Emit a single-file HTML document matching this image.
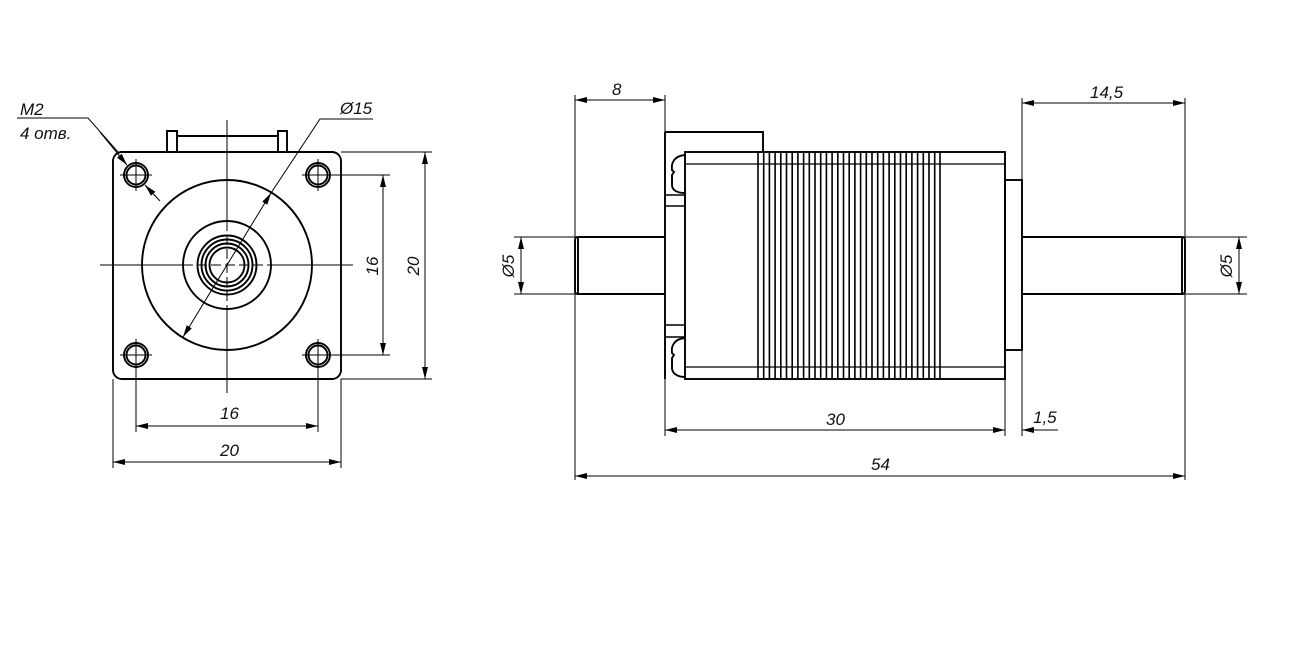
<!DOCTYPE html>
<html><head><meta charset="utf-8"><style>
html,body{margin:0;padding:0;background:#fff;}
svg{display:block;}
text{font-family:"Liberation Sans",sans-serif;font-style:italic;font-size:17px;fill:#111;}
</style></head><body>
<svg width="1292" height="648" viewBox="0 0 1292 648" xmlns="http://www.w3.org/2000/svg">
<defs>
<marker id="a" viewBox="0 0 12 6" refX="12" refY="3" markerWidth="12" markerHeight="6" orient="auto-start-reverse" markerUnits="userSpaceOnUse"><path d="M0,0 L12,3 L0,6 z" fill="#000"/></marker>
</defs>
<g fill="none" stroke="#000">
<!-- LEFT VIEW -->
<g stroke-width="1.9">
<rect x="113" y="152" width="228" height="227" rx="9"/>
<path d="M167,152 V131 H177 V152 M278,152 V131 H287 V152 M177,136 H278"/>
<circle cx="227" cy="265" r="85"/>
<circle cx="227" cy="265" r="44"/>
<circle cx="227" cy="265" r="29.5"/>
<circle cx="227" cy="265" r="25.5"/>
<circle cx="227" cy="265" r="21.5"/>
<circle cx="227" cy="265" r="17.5"/>
<circle cx="136" cy="175" r="12"/><circle cx="136" cy="175" r="9.5"/>
<circle cx="318" cy="175" r="12"/><circle cx="318" cy="175" r="9.5"/>
<circle cx="136" cy="355" r="12"/><circle cx="136" cy="355" r="9.5"/>
<circle cx="318" cy="355" r="12"/><circle cx="318" cy="355" r="9.5"/>
</g>
<g stroke-width="1">
<path d="M100,265 H183 M271,265 H353 M227,120 V221 M227,309 V393"/>
<path d="M183,265 H271 M227,221 V309" stroke-dasharray="10,4"/>
<path d="M120,175 H152 M136,159 V191 M302,175 H334 M318,159 V191 M120,355 H152 M136,339 V371 M302,355 H334 M318,339 V371"/>
<path d="M330,175 H390 M330,355 H390 M341,152 H432 M341,379 H432"/>
<path d="M136,367 V432 M318,367 V432 M113,379 V468 M341,379 V468"/>
<line x1="383" y1="175" x2="383" y2="355" marker-start="url(#a)" marker-end="url(#a)"/>
<line x1="425" y1="152" x2="425" y2="379" marker-start="url(#a)" marker-end="url(#a)"/>
<line x1="136" y1="426" x2="318" y2="426" marker-start="url(#a)" marker-end="url(#a)"/>
<line x1="113" y1="462" x2="341" y2="462" marker-start="url(#a)" marker-end="url(#a)"/>
<line x1="183" y1="337" x2="271" y2="193" marker-start="url(#a)" marker-end="url(#a)"/>
<path d="M271,193 L320,119 H373"/>
<path d="M17,118 H88 L118,152"/>
<line x1="100" y1="132" x2="127" y2="165" marker-end="url(#a)"/>
<line x1="160" y1="201" x2="145" y2="185" marker-end="url(#a)"/>
</g>

<!-- RIGHT VIEW -->
<g stroke-width="1.9">
<path d="M665,132 H763 V152"/>
<line x1="665" y1="132" x2="665" y2="379"/>
<rect x="685" y="152" width="320" height="227"/>
<path d="M685,164 H1005 M685,367 H1005" stroke-width="1.3"/>
<path d="M665,195 H685 V206 H665 M665,325 H685 V337 H665" stroke-width="1.5"/>
<path d="M685,155 C674,156 671,163 672,170 L674,172 L672,175 L672,185 C672,190 677,193 685,193"/>
<path d="M685,338 C674,339 671,346 672,353 L674,355 L672,358 L672,368 C672,373 677,377 685,377"/>
<rect x="1005" y="180" width="17" height="170"/>
<path d="M665,237 H578 Q575,237 575,240 V291 Q575,294 578,294 H665 M578,237 V294"/>
<path d="M1022,237 H1182 Q1185,237 1185,240 V291 Q1185,294 1182,294 H1022 M1182,237 V294"/>
</g>
<g stroke-width="1">
<path d="M575,95 V480 M665,95 V132 M665,379 V436 M1005,379 V436 M1022,98 V180 M1022,350 V436 M1185,98 V237 M1185,294 V480"/>
<path d="M514,237 H575 M514,294 H575 M1185,237 H1247 M1185,294 H1247"/>
<line x1="575" y1="100" x2="665" y2="100" marker-start="url(#a)" marker-end="url(#a)"/>
<line x1="1022" y1="103" x2="1185" y2="103" marker-start="url(#a)" marker-end="url(#a)"/>
<line x1="521" y1="237" x2="521" y2="294" marker-start="url(#a)" marker-end="url(#a)"/>
<line x1="1239" y1="237" x2="1239" y2="294" marker-start="url(#a)" marker-end="url(#a)"/>
<line x1="665" y1="430" x2="1005" y2="430" marker-start="url(#a)" marker-end="url(#a)"/>
<line x1="1042" y1="430" x2="1022" y2="430" marker-end="url(#a)"/>
<line x1="1022" y1="430" x2="1058" y2="430"/>
<line x1="575" y1="476" x2="1185" y2="476" marker-start="url(#a)" marker-end="url(#a)"/>
</g>
</g>
<g fill="none" stroke="#000" stroke-width="1.6">
<path d="M758,152V379M763.7,152V379M769.4,152V379M775.1,152V379M780.8,152V379M786.5,152V379M792.2,152V379M797.9,152V379M803.6,152V379M809.3,152V379M815,152V379M820.7,152V379M826.4,152V379M832.1,152V379M837.8,152V379M843.5,152V379M849.2,152V379M854.9,152V379M860.6,152V379M866.3,152V379M872,152V379M877.7,152V379M883.4,152V379M889.1,152V379M894.8,152V379M900.5,152V379M906.2,152V379M911.9,152V379M917.6,152V379M923.3,152V379M929,152V379M934.7,152V379M940,152V379"/>
</g>
<g>
<text x="20" y="115">M2</text>
<text x="20" y="139" font-size="15">4 отв.</text>
<text x="340" y="114">Ø15</text>
<text x="220" y="419">16</text>
<text x="220" y="456">20</text>
<text transform="translate(378,266) rotate(-90)" text-anchor="middle">16</text>
<text transform="translate(419,266) rotate(-90)" text-anchor="middle">20</text>
<text x="612" y="95">8</text>
<text x="1090" y="98">14,5</text>
<text transform="translate(514,266) rotate(-90)" text-anchor="middle">Ø5</text>
<text transform="translate(1232,266) rotate(-90)" text-anchor="middle">Ø5</text>
<text x="826" y="425">30</text>
<text x="1033" y="423">1,5</text>
<text x="871" y="470">54</text>
</g>
</svg>
</body></html>
